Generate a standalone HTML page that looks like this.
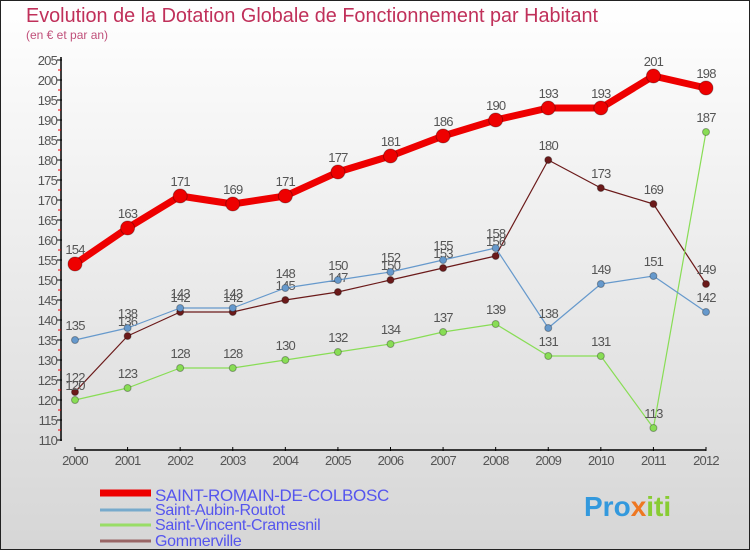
<!DOCTYPE html>
<html><head><meta charset="utf-8"><style>
body{margin:0}
#c{width:750px;height:550px;position:relative;overflow:hidden;font-family:"Liberation Sans",sans-serif}
svg text{font-family:"Liberation Sans",sans-serif}
</style></head><body>
<div id="c">
<svg id="s" width="750" height="550" xmlns="http://www.w3.org/2000/svg">
<defs><linearGradient id="bg" x1="0" y1="0" x2="0" y2="1"><stop offset="0" stop-color="#ffffff"/><stop offset="1" stop-color="#d6d6d6"/></linearGradient></defs>
<rect x="0.5" y="0.5" width="749" height="549" fill="url(#bg)" stroke="#222"/>
<text x="26" y="22" font-size="20" fill="#c0305a" textLength="572" lengthAdjust="spacingAndGlyphs">Evolution de la Dotation Globale de Fonctionnement par Habitant</text>
<text x="26" y="39" font-size="12" fill="#c0507a">(en € et par an)</text>
<g id="axes"></g><g id="series"></g><g id="legend"></g>
<text x="584" y="516" font-size="28" font-weight="bold"><tspan fill="#3399dd">Pro</tspan><tspan fill="#ee7722">x</tspan><tspan fill="#88cc33">iti</tspan></text>
</svg>
</div>
<script>
const years=[2000,2001,2002,2003,2004,2005,2006,2007,2008,2009,2010,2011,2012];
const yTicks=[110,115,120,125,130,135,140,145,150,155,160,165,170,175,180,185,190,195,200,205];
const sRomain=[154,163,171,169,171,177,181,186,190,193,193,201,198];
const sAubin=[135,138,143,143,148,150,152,155,158,138,149,151,142];
const sVincent=[120,123,128,128,130,132,134,137,139,131,131,113,187];
const sGomm=[122,136,142,142,145,147,150,153,156,180,173,169,149];
const NS="http://www.w3.org/2000/svg";
const X=i=>75+i*(706-75)/(years.length-1);
const Y=v=>60+(205-v)*4;
function mk(tag,attrs,parent){const e=document.createElementNS(NS,tag);for(const k in attrs)e.setAttribute(k,attrs[k]);parent.appendChild(e);return e;}
const ax=document.getElementById('axes');
let l=mk('line',{x1:61,y1:57,x2:61,y2:441,stroke:'#000','stroke-width':1.5},ax);


yTicks.forEach(v=>{
 let t=mk('line',{x1:57,y1:Y(v),x2:62,y2:Y(v),stroke:'#000'},ax);
 
 
 if(v<205){let m=mk('line',{x1:58,y1:Y(v)-10,x2:61,y2:Y(v)-10,stroke:'#e00'},ax);
 
 }
 let tx=mk('text',{x:57,y:Y(v)+5,'font-size':13,fill:'#555','text-anchor':'end','letter-spacing':'-0.8'},ax);tx.textContent=v;
 
 
});
l=mk('line',{x1:75,y1:450,x2:706,y2:450,stroke:'#000','stroke-width':1.5},ax);


years.forEach((y,i)=>{
 let t=mk('line',{x1:X(i),y1:447,x2:X(i),y2:451,stroke:'#000'},ax);
 
 
 let tx=mk('text',{x:X(i),y:465,'font-size':13,fill:'#555','text-anchor':'middle','letter-spacing':'-0.8'},ax);tx.textContent=y;
 
 
});
const sg=document.getElementById('series');
function series(data,color,w,r,name){
 const g=mk('g',{},sg);
 
 
 const p=mk('polyline',{points:data.map((v,i)=>X(i)+','+Y(v)).join(' '),fill:'none',stroke:color,'stroke-width':w,'stroke-linejoin':'round'},g);
 
 
 data.forEach((v,i)=>{
  const c=mk('circle',{cx:X(i),cy:Y(v),r:r,fill:color,stroke:'rgba(0,0,0,0.3)'},g);
  
  
  const t=mk('text',{x:X(i),y:Y(v)-10,'font-size':13,fill:'#555','text-anchor':'middle','letter-spacing':'-0.8'},g);t.textContent=v;
  
  
 });
}
series(sGomm,'#6b1a1a',1.2,3.5,'gommerville');
series(sVincent,'#88dd55',1.2,3.5,'saint-vincent-cramesnil');
series(sAubin,'#6699cc',1.2,3.5,'saint-aubin-routot');
series(sRomain,'#ee0000',7,7,'saint-romain-de-colbosc');
const lg=document.getElementById('legend');
const names=['SAINT-ROMAIN-DE-COLBOSC','Saint-Aubin-Routot','Saint-Vincent-Cramesnil','Gommerville'];
const cols=['#ee0000','#77aacc','#99dd66','#996666'];
const ws=[7,3,3,3];
names.forEach((n,i)=>{
 const y=[493,508,523,539][i];
 const ln=mk('line',{x1:100,y1:y+(i?2:0),x2:151,y2:y+(i?2:0),stroke:cols[i],'stroke-width':ws[i]},lg);
 
 
 const t=mk('text',{x:155,y:y+(i?7:8),'font-size':i?16:17,fill:'#5555ee','letter-spacing':'-0.3'},lg);t.textContent=n;
 
 
});
</script>
</body></html>
